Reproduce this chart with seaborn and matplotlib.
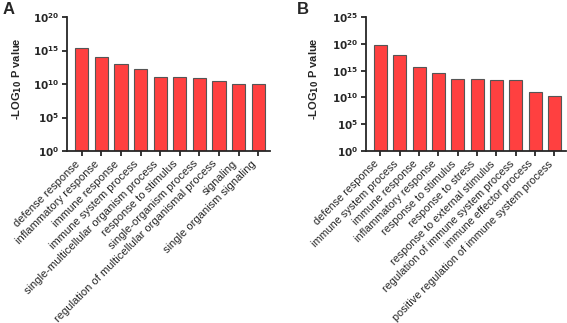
import matplotlib
matplotlib.use('Agg')
import matplotlib.pyplot as plt
import pandas as pd
import seaborn as sns

# GO terms, panel A
terms_a = ['defense response', 'inflammatory response', 'immune response',
           'immune system process', 'single-multicellular organism process',
           'response to stimulus', 'single-organism process',
           'regulation of multicellular organismal process', 'signaling',
           'single organism signaling']
exp_a = [15.35, 14.0, 12.95, 12.3, 11.0, 11.0, 10.85, 10.4, 10.0, 10.0]

# GO terms, panel B
terms_b = ['defense response', 'immune system process', 'immune response',
           'inflammatory response', 'response to stimulus', 'response to stress',
           'response to external stimulus', 'regulation of immune system process',
           'immune effector process', 'positive regulation of immune system process']
exp_b = [19.7, 18.0, 15.7, 14.5, 13.5, 13.5, 13.25, 13.25, 11.0, 10.25]

sns.set_style('ticks')
plt.rcParams['font.family'] = ['Liberation Sans', 'DejaVu Sans']

fig = plt.figure(figsize=(5.67, 3.23), dpi=100)
ax_a = fig.add_axes([67 / 567, 1 - 151 / 323, 203 / 567, 134 / 323])
ax_b = fig.add_axes([366 / 567, 1 - 151 / 323, 200 / 567, 134 / 323])


def draw(ax, terms, exps, top, label_x, xfs):
    df = pd.DataFrame({'term': terms, 'p': [10.0 ** e for e in exps]})
    sns.barplot(data=df, x='term', y='p', ax=ax, color='#ff4040', saturation=1,
                width=0.67, edgecolor='#555555', linewidth=0.8)
    ax.set_yscale('log')
    ax.set_ylim(1.0, 10.0 ** top)
    ax.set_xlim(-0.75, len(terms) - 0.4)
    ticks = list(range(0, top + 1, 5))
    ax.set_yticks([10.0 ** t for t in ticks])
    ax.set_yticklabels([r'$\mathbf{10^{%d}}$' % t for t in ticks], fontsize=7.5)
    ax.minorticks_off()
    ax.set_xticks(range(len(terms)))
    ax.set_xticklabels(terms, rotation=45, ha='right', fontsize=xfs)
    ax.set_xlabel('')
    ax.set_ylabel(r'-LOG$_{\mathbf{10}}$ P value', fontsize=8, fontweight='bold')
    ax.yaxis.set_label_coords(label_x, 0.54)
    for s in ['top', 'right']:
        ax.spines[s].set_visible(False)
    for s in ['left', 'bottom']:
        ax.spines[s].set_linewidth(1.3)
    ax.tick_params(axis='both', width=1.3, length=3.5, pad=2)


draw(ax_a, terms_a, exp_a, 20, -0.21, 8)
draw(ax_b, terms_b, exp_b, 25, -0.225, 7.8)

fig.text(3 / 567, 1 - 14 / 323, 'A', fontsize=12, fontweight='bold')
fig.text(297 / 567, 1 - 14 / 323, 'B', fontsize=12, fontweight='bold')

fig.savefig('out.png', dpi=100)
